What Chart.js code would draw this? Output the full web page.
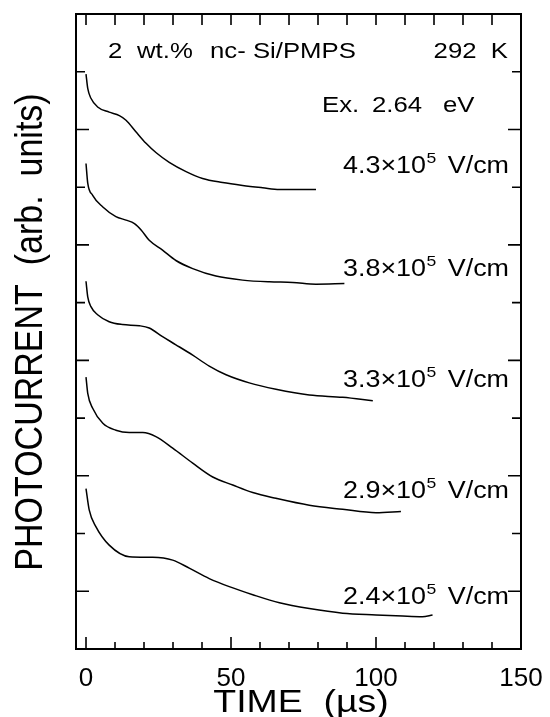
<!DOCTYPE html>
<html lang="en">
<head>
    <meta charset="UTF-8">
    <title>Photocurrent transients</title>
    <script src="https://cdn.jsdelivr.net/npm/chart.js"></script>
    <style>
        body { margin: 0; background: #fff; }
        #plot { display: block; }
    </style>
</head>
<body>
    <canvas id="plot" width="550" height="717"></canvas>

    <script>
        // time (us) and photocurrent (offset, arb. units)
        const fieldLabels = ['4.3', '3.8', '3.3', '2.9', '2.4'];

        const t43 = [0, 0.6, 1.7, 4.0, 8.0, 11.5, 13.8, 17.2, 20.7, 24.1, 28.7, 34.5, 40.2, 47.1, 54.0, 60.9, 66.7, 72.4, 79.3];
        const v43 = [9.96, 9.71, 9.54, 9.39, 9.30, 9.24, 9.16, 8.96, 8.76, 8.60, 8.43, 8.27, 8.15, 8.08, 8.03, 7.99, 7.96, 7.96, 7.96];

        const t38 = [0, 0.6, 2.3, 5.7, 10.3, 13.8, 16.7, 19.0, 21.8, 26.4, 31.0, 36.8, 44.8, 54.0, 63.2, 71.3, 79.3, 89.1];
        const v38 = [8.41, 8.07, 7.86, 7.66, 7.49, 7.43, 7.37, 7.26, 7.08, 6.91, 6.73, 6.59, 6.46, 6.39, 6.36, 6.35, 6.32, 6.33];

        const t33 = [0, 0.6, 1.7, 4.0, 8.0, 12.6, 18.4, 21.8, 26.4, 31.0, 36.8, 42.5, 48.3, 56.3, 65.5, 77.0, 88.5, 98.9];
        const v33 = [6.37, 6.10, 5.93, 5.79, 5.67, 5.62, 5.60, 5.56, 5.41, 5.27, 5.09, 4.90, 4.75, 4.61, 4.50, 4.40, 4.36, 4.30];

        const t29 = [0, 0.6, 2.3, 5.8, 10.3, 14.9, 19.6, 24.1, 29.9, 36.8, 43.7, 50.6, 57.5, 65.5, 77.0, 88.5, 100, 108.6];
        const v29 = [4.71, 4.43, 4.17, 3.91, 3.79, 3.75, 3.75, 3.68, 3.48, 3.22, 2.98, 2.84, 2.71, 2.61, 2.49, 2.42, 2.36, 2.38];

        const t24 = [0, 1.1, 3.4, 8.0, 14.9, 23.0, 29.9, 35.6, 42.5, 49.4, 57.5, 66.7, 77.0, 88.5, 100, 109.2, 116, 119.5];
        const v24 = [2.78, 2.41, 2.12, 1.80, 1.60, 1.59, 1.54, 1.40, 1.22, 1.08, 0.94, 0.80, 0.70, 0.62, 0.59, 0.57, 0.56, 0.59];

        const xTicks = [0, 50, 100, 150];

        const curves = [[t43, v43], [t38, v38], [t33, v33], [t29, v29], [t24, v24]];

        const FONT = 'Liberation Sans, Arial, Helvetica, sans-serif';
        const SX = 1.17; // the original lettering is a bit wide

        function wideText(ctx, str, x, y, size, align) {
            ctx.save();
            ctx.font = size + 'px ' + FONT;
            const w = ctx.measureText(str).width * SX;
            let x0 = x;
            if (align === 'right') x0 = x - w;
            if (align === 'center') x0 = x - w / 2;
            ctx.translate(x0, y);
            ctx.scale(SX, 1);
            ctx.textAlign = 'left';
            ctx.textBaseline = 'alphabetic';
            ctx.fillText(str, 0, 0);
            ctx.restore();
            return w;
        }

        // frame, inward ticks and annotations
        const decor = {
            id: 'decor',
            afterDraw(chart) {
                const ctx = chart.ctx;
                const a = chart.chartArea;
                const xs = chart.scales.x;
                const ys = chart.scales.y;
                ctx.save();
                ctx.strokeStyle = '#000';
                ctx.fillStyle = '#000';
                ctx.lineWidth = 2;
                ctx.strokeRect(a.left, a.top, a.right - a.left, a.bottom - a.top);

                ctx.lineWidth = 1.6;
                ctx.beginPath();
                for (let v = 0; v <= 150; v += 10) {
                    const px = xs.getPixelForValue(v);
                    const len = v % 50 === 0 ? 12 : 7;
                    ctx.moveTo(px, a.bottom); ctx.lineTo(px, a.bottom - len);
                    ctx.moveTo(px, a.top); ctx.lineTo(px, a.top + 11);
                }
                for (let v = 1; v <= 10; v++) {
                    const py = ys.getPixelForValue(v);
                    const len = v % 2 === 1 ? 13 : 9;
                    ctx.moveTo(a.left, py); ctx.lineTo(a.left + len, py);
                    ctx.moveTo(a.right, py); ctx.lineTo(a.right - len, py);
                }
                ctx.stroke();

                // header texts
                wideText(ctx, '2', 108, 58, 22);
                wideText(ctx, 'wt.%', 137, 58, 22);
                wideText(ctx, 'nc- Si/PMPS', 210, 58, 22);
                wideText(ctx, '292  K', 508, 58, 22, 'right');
                wideText(ctx, 'Ex.', 322, 112, 22);
                wideText(ctx, '2.64', 372, 112, 22);
                wideText(ctx, 'eV', 443, 112, 22);

                // field labels
                const baselines = [173, 276, 387, 498, 604];
                fieldLabels.forEach((f, i) => {
                    const y = baselines[i];
                    const w = wideText(ctx, f + '\u00d710', 343, y, 23);
                    wideText(ctx, '5', 343 + w + 0.5, y - 10, 15);
                    wideText(ctx, 'V/cm', 509, y, 23, 'right');
                });

                // axis titles
                wideText(ctx, 'TIME  (\u00b5s)', 301, 712, 32, 'center');
                ctx.save();
                ctx.translate(42, 332);
                ctx.rotate(-Math.PI / 2);
                ctx.scale(1, 1.12);
                ctx.font = '34px ' + FONT;
                ctx.textAlign = 'center';
                ctx.textBaseline = 'alphabetic';
                ctx.fillText('PHOTOCURRENT  (arb.  units)', 0, 0);
                ctx.restore();

                ctx.restore();
            }
        };

        new Chart(document.getElementById('plot'), {
            type: 'line',
            data: {
                datasets: curves.map((c, i) => ({
                    label: fieldLabels[i],
                    data: c[0].map((t, k) => ({ x: t, y: c[1][k] })),
                    borderColor: '#000',
                    borderWidth: 1.5,
                    pointRadius: 0,
                    cubicInterpolationMode: 'monotone',
                    fill: false
                }))
            },
            options: {
                responsive: false,
                animation: false,
                devicePixelRatio: 1,
                layout: { padding: { left: 76, right: 29, top: 14, bottom: 0 } },
                plugins: {
                    legend: { display: false },
                    tooltip: { enabled: false }
                },
                scales: {
                    x: {
                        type: 'linear',
                        min: -3.45,
                        max: 150,
                        grid: { display: false },
                        border: { display: false },
                        afterBuildTicks: (s) => { s.ticks = xTicks.map(v => ({ value: v })); },
                        afterFit: (s) => { s.height = 68; },
                        ticks: {
                            color: '#000',
                            padding: 6,
                            maxRotation: 0,
                            autoSkip: false,
                            font: { size: 26, family: FONT }
                        }
                    },
                    y: {
                        type: 'linear',
                        min: 0,
                        max: 11,
                        display: false
                    }
                }
            },
            plugins: [decor]
        });
    </script>
</body>
</html>
